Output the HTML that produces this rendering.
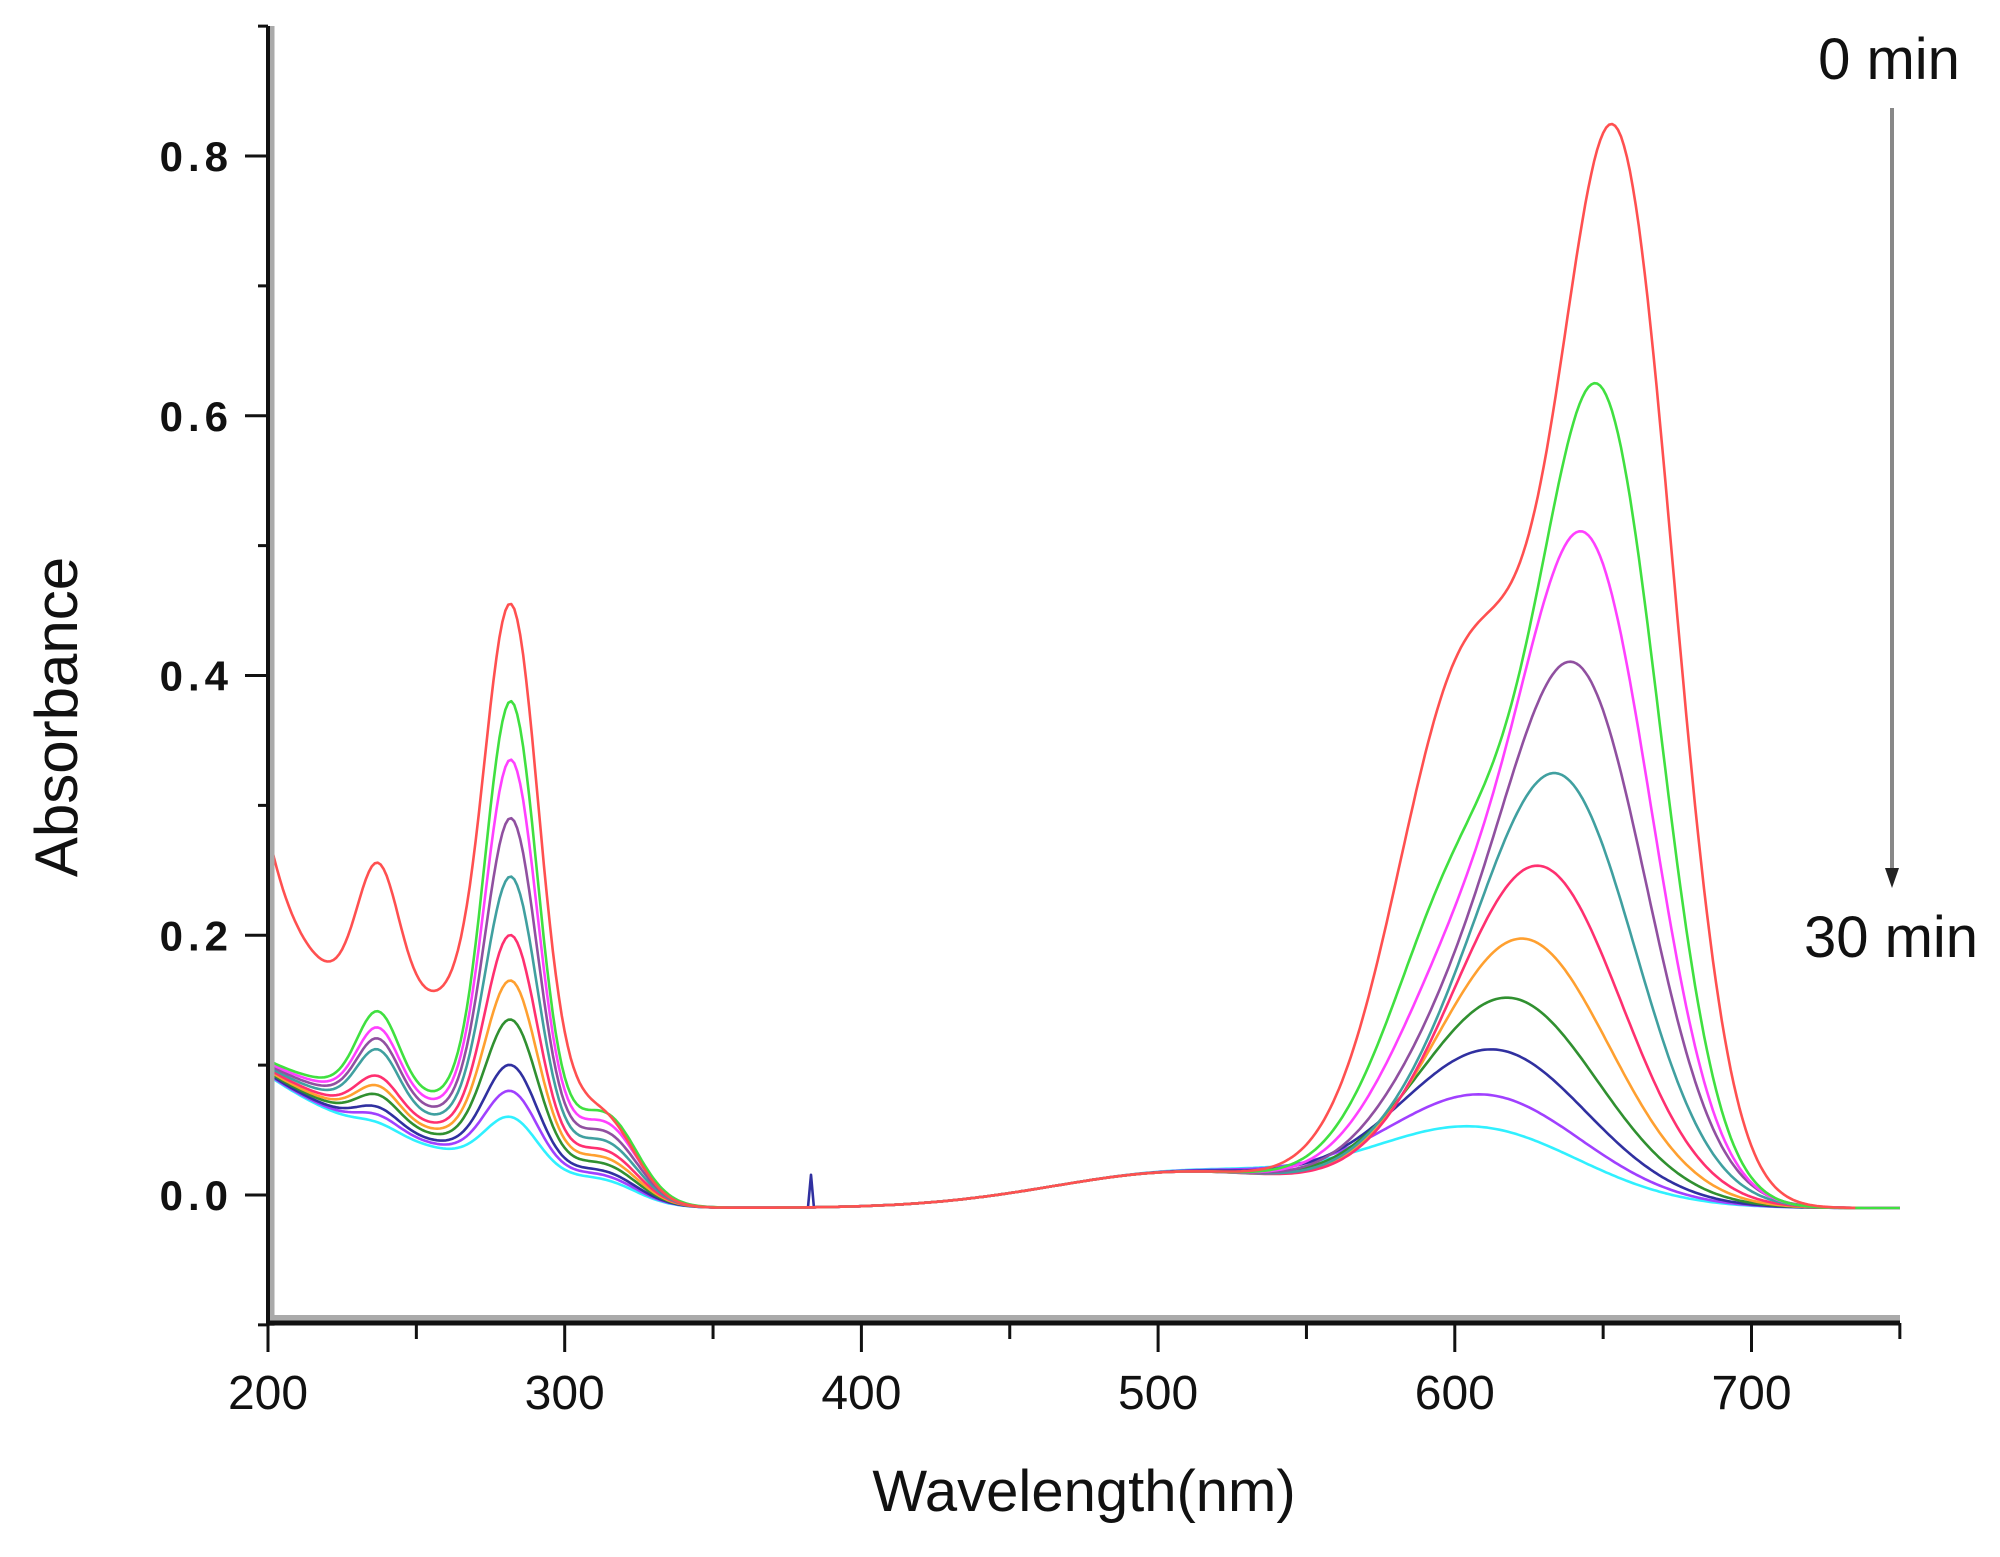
<!DOCTYPE html>
<html><head><meta charset="utf-8"><style>
html,body{margin:0;padding:0;background:#fff}
svg{display:block}
text{font-family:"Liberation Sans",Arial,sans-serif;fill:#111}
</style></head><body>
<svg id="s" width="2000" height="1557" viewBox="0 0 2000 1557" xmlns="http://www.w3.org/2000/svg">
<g id="curves" fill="none" stroke-width="2.6" stroke-linejoin="round"></g>
<line x1="272" y1="26" x2="272" y2="1326" stroke="#aaa" stroke-width="5"/>
<line x1="268" y1="1318" x2="1900" y2="1318" stroke="#aaa" stroke-width="6"/>
<line x1="268" y1="26" x2="268" y2="1325" stroke="#111" stroke-width="4"/>
<line x1="266" y1="1323" x2="1900" y2="1323" stroke="#111" stroke-width="5"/>
<g id="ticks" stroke="#111" stroke-width="3"></g>
<g id="labels"></g>
<text x="1084" y="1511" font-size="58" text-anchor="middle">Wavelength(nm)</text>
<text transform="translate(77,717) rotate(-90)" font-size="60" text-anchor="middle">Absorbance</text>
<text x="1889" y="79" font-size="58" text-anchor="middle">0 min</text>
<text x="1891" y="957" font-size="58" text-anchor="middle">30 min</text>
<line x1="1892" y1="108" x2="1892" y2="872" stroke="#888" stroke-width="4"/>
<polygon points="1885,868 1899,868 1892,888" fill="#222"/>
</svg>
<script>
const X=x=>268+(x-200)*2.967, Y=y=>1195-y*1298.75;
const g=(x,c,s)=>Math.exp(-((x-c)*(x-c))/(2*s*s));
const sig=z=>1/(1+Math.exp(z));
const cols=["#ff5050","#40e040","#ff40ff","#9050a0","#40a0a0","#ff3070","#ffa030","#309030","#3030a0","#a040ff","#30f0ff"];
const vis=[[0.83,655],[0.63,650],[0.515,646],[0.415,643],[0.33,638],[0.26,632],[0.205,626],[0.16,620],[0.12,614],[0.085,610],[0.06,607]];
const uv=[0.465,0.38,0.335,0.29,0.245,0.2,0.165,0.135,0.1,0.08,0.06];
const p237=[0.1,0.06,0.052,0.048,0.044,0.028,0.024,0.02,0.014,0.01,0.006];
let html="";
for(let i=10;i>=0;i--){
  const t=i/10,[V,c]=vis[i];
  const sg=(i==0?19:18)+17*t;
  const sc=605, ss=24+6*t;
  let S=V*(i==0?0.5:0.45)*(1-t);
  let M=V-S*g(c,sc,ss); if(M<0)M=0;
  let d="",end=i==0?735:750;
  const baseF=x=>(0.1*Math.exp(-(x-200)/60)+0.12*uv[i]*g(x,262,40))*sig((x-325)/8);
  for(let x=200;x<=end;x+=1){
    let y;
    let common=-0.01+0.028*g(x,510,45)+M*g(x,c,sg)+S*g(x,sc,ss);
    if(i==0){
      let base=(0.16+0.13*Math.exp(-(x-200)/12))*sig((x-300)/8);
      y=base+p237[0]*g(x,237,7)+0.32*g(x,282,8.8)+0.05*g(x,315,10)+common;
    }else{
      let pk=uv[i]-baseF(282)+0.01;
      y=baseF(x)+p237[i]*g(x,237,7)+pk*g(x,282,8.8)+0.12*uv[i]*g(x,315,10)+common;
    }
    if(i==8 && x==383) y+=0.025;
    d+=(x==200?"M":"L")+X(x).toFixed(1)+" "+Y(y).toFixed(1);
  }
  html+=`<path d="${d}" stroke="${cols[i]}"/>`;
}
document.getElementById("curves").innerHTML=html;
let tk="",lb="";
for(let k=-1;k<=9;k++){
  const y=Y(k/10),maj=k%2==0;
  tk+=`<line x1="${maj?245:258}" y1="${y}" x2="268" y2="${y}"/>`;
  if(maj&&k>=0) lb+=`<text x="233" y="${y+15}" font-size="42" font-weight="bold" letter-spacing="5" text-anchor="end">${(k/10).toFixed(1)}</text>`;
}
for(let x=200;x<=750;x+=50){
  const maj=x%100==0;
  tk+=`<line x1="${X(x)}" y1="1323" x2="${X(x)}" y2="${maj?1352:1339}"/>`;
  if(maj) lb+=`<text x="${X(x)}" y="1409" font-size="48" text-anchor="middle">${x}</text>`;
}
document.getElementById("ticks").innerHTML=tk;
document.getElementById("labels").innerHTML=lb;
</script>
</body></html>
